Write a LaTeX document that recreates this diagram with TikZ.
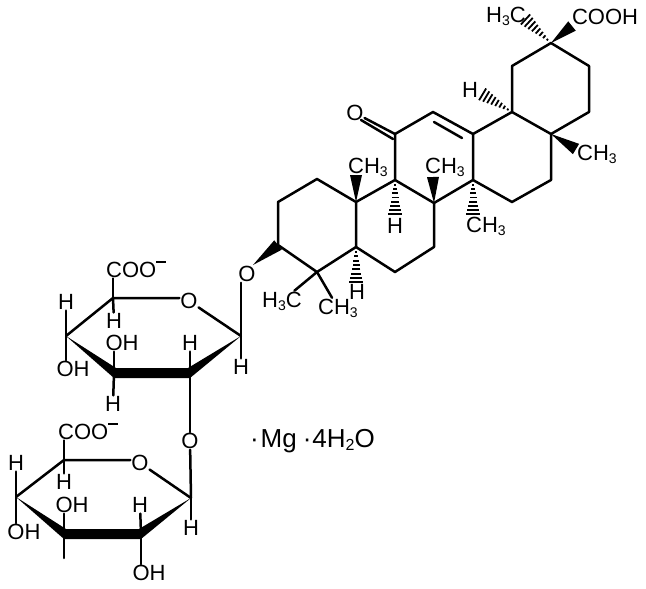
\documentclass[tikz,border=0pt]{standalone}
\usepackage{fontspec}
\setmainfont{Liberation Sans}
\usetikzlibrary{calc}

\newcommand{\lowidx}[1]{\raisebox{-3pt}{\fontsize{14}{14}\selectfont #1}}
\newcommand{\anion}{\raisebox{14.5pt}{\rule{9.5pt}{2.2pt}}}
\newcommand{\wedgebond}[3][6]{\fill (#2) -- ($(#3)!#1pt!90:(#2)$) -- ($(#3)!#1pt!-90:(#2)$) -- cycle;}
\newcommand{\hashbond}[3][7]{%
  \foreach \t in {0.14,0.26,...,0.99} {
    \coordinate (hp) at ($(#2)!\t!(#3)$);
    \pgfmathsetmacro{\hw}{#1*\t}
    \draw[line width=1.8pt] ($(hp)!\hw pt!90:(#3)$) -- ($(hp)!\hw pt!-90:(#3)$);
  }}

\tikzset{
  bond/.style={line width=2.5pt, line cap=round, line join=round},
  atomlabel/.style={font=\fontsize{22}{26}\selectfont, inner sep=1pt, outer sep=0pt}
}

\begin{document}
\begin{tikzpicture}[x=1pt, y=-1pt]
    \useasboundingbox (0,0) rectangle (646,589);

    % Ring atoms
    \coordinate (c20) at (551,43);
    \coordinate (c19) at (512,66);
    \coordinate (c21) at (589,66);
    \coordinate (c22) at (589,112);
    \coordinate (c17) at (551,134);
    \coordinate (c18) at (512,112);
    \coordinate (c16) at (551,180);
    \coordinate (c15) at (512,202);
    \coordinate (c14) at (473,180);
    \coordinate (c13) at (473,134);
    \coordinate (c12) at (433,112);
    \coordinate (c11) at (395,134);
    \coordinate (c9) at (395,180);
    \coordinate (c8) at (434,203);
    \coordinate (c7) at (434,247);
    \coordinate (c6) at (395,272);
    \coordinate (c5) at (356,247);
    \coordinate (c10) at (356,202);
    \coordinate (c1) at (317,179);
    \coordinate (c2) at (278,202);
    \coordinate (c3) at (278,245);
    \coordinate (c4) at (317,272);

    % Upper sugar atoms
    \coordinate (ua) at (241,336);
    \coordinate (ub) at (190,373);
    \coordinate (uc) at (114,373);
    \coordinate (ud) at (66,336);
    \coordinate (ue) at (113,298);

    % Lower sugar atoms
    \coordinate (la) at (191,498);
    \coordinate (lb) at (141,534);
    \coordinate (lc) at (64,534);
    \coordinate (ld) at (16,497);
    \coordinate (le) at (64,460);
    \coordinate (lstub) at (64,558);

    % Wedge and hash ends
    \coordinate (wcooh) at (572,26);
    \coordinate (hmeth) at (525,19);
    \coordinate (hhtop) at (482,94);
    \coordinate (wmeth) at (576,149);
    \coordinate (hmethb) at (473,215);
    \coordinate (wmethb) at (433,177);
    \coordinate (hhb) at (395,215);
    \coordinate (wmethc) at (356,175);
    \coordinate (hhc) at (356,283);
    \coordinate (wox) at (253,265);
    \coordinate (dblA) at (434,122);
    \coordinate (dblB) at (462,138);
    \coordinate (ketoA) at (393,139);
    \coordinate (ketoB) at (361,120);

    % Labels
    \node[atomlabel] (lbh3c) at (506,16) {H\lowidx{3}C};
    \node[atomlabel] (lbcooh) at (605,17) {COOH};
    \node[atomlabel] (lbhtop) at (470,90) {H};
    \node[atomlabel] (lboket) at (355,113) {O};
    \node[atomlabel] (lbch3r) at (597,154) {CH\lowidx{3}};
    \node[atomlabel] (lbch3b) at (445,167) {CH\lowidx{3}};
    \node[atomlabel] (lbch3a) at (368,167) {CH\lowidx{3}};
    \node[atomlabel] (lbhb) at (395,226) {H};
    \node[atomlabel] (lbch3d) at (486,226) {CH\lowidx{3}};
    \node[atomlabel] (lbhc) at (357,292) {H};
    \node[atomlabel] (lbo) at (247,274) {O};
    \node[atomlabel] (lbh3cb) at (282,301) {H\lowidx{3}C};
    \node[atomlabel] (lbch3c) at (338,308) {CH\lowidx{3}};

    \node[atomlabel] (ucoo) at (136,269) {COO\anion};
    \node[atomlabel] (uoring) at (189,301) {O};
    \node[atomlabel] (uhe) at (114,321) {H};
    \node[atomlabel] (uhd) at (66,302) {H};
    \node[atomlabel] (uohd) at (73,369) {OH};
    \node[atomlabel] (uohc) at (122,343) {OH};
    \node[atomlabel] (uhc) at (113,404) {H};
    \node[atomlabel] (uhb) at (190,343) {H};
    \node[atomlabel] (uha) at (241,367) {H};
    \node[atomlabel] (olink) at (190,441) {O};

    \node[atomlabel] (lcoo) at (88,431) {COO\anion};
    \node[atomlabel] (loring) at (140,463) {O};
    \node[atomlabel] (lhe) at (64,482) {H};
    \node[atomlabel] (lhd) at (16,463) {H};
    \node[atomlabel] (lohd) at (24,532) {OH};
    \node[atomlabel] (lohc) at (72,505) {OH};
    \node[atomlabel] (lhb) at (140,505) {H};
    \node[atomlabel] (lha) at (191,528) {H};
    \node[atomlabel] (lohb) at (149,573) {OH};

    \node[atomlabel, font=\fontsize{26}{30}\selectfont, anchor=west] (salt) at (249,441) {·\kern2ptMg\kern6pt·\kern1pt4H\raisebox{-3pt}{\fontsize{16}{16}\selectfont 2}O};

    % Steroid rings
    \draw[bond] (c20) -- (c19) -- (c18) -- (c17) -- (c22) -- (c21) -- cycle;
    \draw[bond] (c18) -- (c13) -- (c14) -- (c15) -- (c16) -- (c17);
    \draw[bond] (c13) -- (c12) -- (c11) -- (c9) -- (c8) -- (c14);
    \draw[bond] (c9) -- (c10) -- (c1) -- (c2) -- (c3) -- (c4) -- (c5) -- (c10);
    \draw[bond] (c5) -- (c6) -- (c7) -- (c8);
    \draw[bond] (dblA) -- (dblB);
    \draw[bond] (c11) -- (lboket);
    \draw[bond] (ketoA) -- (ketoB);
    \draw[bond] (c4) -- (lbh3cb);
    \draw[bond] (c4) -- (lbch3c);

    % Wedges and hashes
    \wedgebond{c20}{wcooh}
    \hashbond{c20}{hmeth}
    \hashbond{c18}{hhtop}
    \wedgebond{c17}{wmeth}
    \hashbond{c14}{hmethb}
    \wedgebond{c8}{wmethb}
    \hashbond{c9}{hhb}
    \wedgebond{c10}{wmethc}
    \hashbond{c5}{hhc}
    \wedgebond{wox}{c3}

    % Upper sugar
    \draw[bond] (ud) -- (ue) -- (uoring.west |- ue);
    \draw[bond] (uoring) -- (ua);
    \fill (ud) -- ($(uc)+(2,-5)$) -- ($(ub)+(-2,-5)$) -- (ua) -- ($(ub)+(0,5)$) -- ($(uc)+(0,5)$) -- cycle;
    \draw[bond] (ue) -- (ue |- ucoo.south);
    \draw[bond] (ue) -- (uhe);
    \draw[bond] (ud) -- (uhd);
    \draw[bond] (ud) -- (ud |- uohd.north);
    \draw[bond] (uc) -- (uc |- uohc.south);
    \draw[bond] (uc) -- (uhc);
    \draw[bond] (ub) -- (uhb);
    \draw[bond] (ua) -- (uha);
    \draw[bond] (ua |- lbo.south) -- (ua);
    \draw[bond] (ub) -- (olink);

    % Lower sugar
    \draw[bond] (ld) -- (le) -- (loring.west |- le);
    \draw[bond] (loring) -- (la);
    \fill (ld) -- ($(lc)+(2,-5)$) -- ($(lb)+(-2,-5)$) -- (la) -- ($(lb)+(0,5)$) -- ($(lc)+(0,5)$) -- cycle;
    \draw[bond] (le) -- (le |- lcoo.south);
    \draw[bond] (le) -- (lhe);
    \draw[bond] (ld) -- (lhd);
    \draw[bond] (ld) -- (ld |- lohd.north);
    \draw[bond] (lc) -- (lc |- lohc.south);
    \draw[bond] (lc) -- (lstub);
    \draw[bond] (lb) -- (lhb);
    \draw[bond] (lb) -- (lb |- lohb.north);
    \draw[bond] (la) -- (lha);
    \draw[bond] (olink) -- (la);
\end{tikzpicture}
\end{document}
